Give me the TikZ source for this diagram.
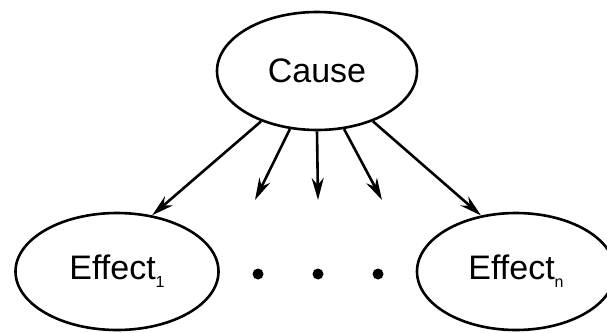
\documentclass[tikz,border=0pt]{standalone}
\usepackage{fontspec}
\setmainfont{Liberation Sans}
\usetikzlibrary{shapes.geometric,arrows.meta}
\tikzset{
  bubble/.style={ellipse, draw, line width=2.6pt, inner sep=0pt,
    font=\fontsize{34}{40}\selectfont},
  link/.style={line width=2.6pt,
    -{Stealth[open, length=22pt, width=12pt, inset=7pt]}},
  dotmark/.style={circle, fill, inner sep=0pt, minimum size=11pt}
}
\newcommand{\subidx}[1]{\raisebox{-8pt}{\fontsize{16}{16}\selectfont #1}}
\begin{document}
\begin{tikzpicture}[x=1pt, y=-1pt]
  \useasboundingbox (0,0) rectangle (607,332);

  % cause and its two named effects
  \node[bubble, minimum width=200pt, minimum height=118pt] (cause) at (317,71) {Cause};
  \node[bubble, minimum width=203pt, minimum height=117pt] (e1) at (117,271.5) {Effect\subidx{1}};
  \node[bubble, minimum width=198pt, minimum height=117pt] (en) at (516,271.5) {Effect\subidx{n}};

  % ellipsis between the effects
  \node[dotmark] (d1) at (258,274) {};
  \node[dotmark] (d2) at (318,274) {};
  \node[dotmark] (d3) at (378,274) {};

  % free ends of the middle arrows
  \coordinate (m1) at (255,200);
  \coordinate (m2) at (318,200);
  \coordinate (m3) at (382,200);

  \draw[link] (cause.222) -- (e1.58);
  \draw[link] (cause.245) -- (m1);
  \draw[link] (cause.270) -- (m2);
  \draw[link] (cause.295) -- (m3);
  \draw[link] (cause.318) -- (en.122);
\end{tikzpicture}
\end{document}
